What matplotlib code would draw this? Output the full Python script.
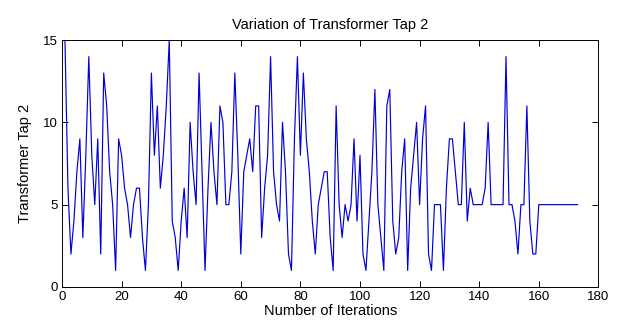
import matplotlib
matplotlib.use("Agg")
import matplotlib.pyplot as plt

# transformer tap position at every iteration
tap_a = [15, 6, 2, 4, 7, 9, 3, 8, 14, 8, 5, 9, 2, 13, 11, 7, 5, 1, 9, 8,
         6, 5, 3, 5, 6, 6, 3, 1]
tap_b = [5, 13, 8, 11, 6, 8, 11, 15, 4, 3, 1, 4, 6, 3, 10, 7, 5, 13, 7, 1,
         6, 10, 7, 5, 11, 10, 5]
tap_c = [5, 7, 13, 8, 2, 7, 8, 9, 7, 11, 11, 3, 6, 8, 14, 7, 5, 4, 10, 7,
         2, 1, 9, 14, 8, 13, 9, 7]
tap_d = [4, 2, 5, 6, 7, 7, 3, 1, 11, 5, 3, 5, 4, 5, 9, 4, 8, 2, 1, 4,
         7, 12, 5, 3, 1, 11, 12, 4, 2]
tap_e = [3, 7, 9, 1, 6, 8, 10, 5, 9, 11, 2, 1, 5, 5, 5, 1, 6, 9, 9, 7,
         5, 5, 10, 4, 6]
tap_f = [5, 5, 5, 5, 6, 10, 5, 5, 5, 5, 5, 14, 5, 5, 4, 2, 5, 5, 11, 4,
         2, 2, 5, 5, 5, 5, 5, 5, 5, 5, 5, 5, 5, 5, 5, 5]

tap2 = tap_a + tap_b + tap_c + tap_d + tap_e + tap_f
iterations = list(range(1, len(tap2) + 1))

xticks = [0, 20, 40, 60, 80, 100, 120, 140, 160, 180]
yticks = [0, 5, 10, 15]

plt.rcParams['font.family'] = ['Liberation Sans', 'DejaVu Sans']

fig = plt.figure(figsize=(6.23, 3.29), dpi=100)
ax = fig.add_axes([0.0995, 0.128, 0.861, 0.750])

ax.plot(iterations, tap2, color='#0000d8', lw=0.85)

ax.set_xlim(0, 180)
ax.set_ylim(0, 15)
ax.set_xticks(xticks)
ax.set_yticks(yticks)
ax.tick_params(direction='in', length=4, width=0.7, top=True, right=True,
               labelsize=9.5, pad=3)
for s in ax.spines.values():
    s.set_linewidth(0.7)

ax.set_title('Variation of Transformer Tap 2', fontsize=10.5, pad=8)
ax.set_xlabel('Number of Iterations', fontsize=10.5, labelpad=1)
ax.set_ylabel('Transformer Tap 2', fontsize=10.5, labelpad=8)

fig.savefig('out.png', dpi=100)
